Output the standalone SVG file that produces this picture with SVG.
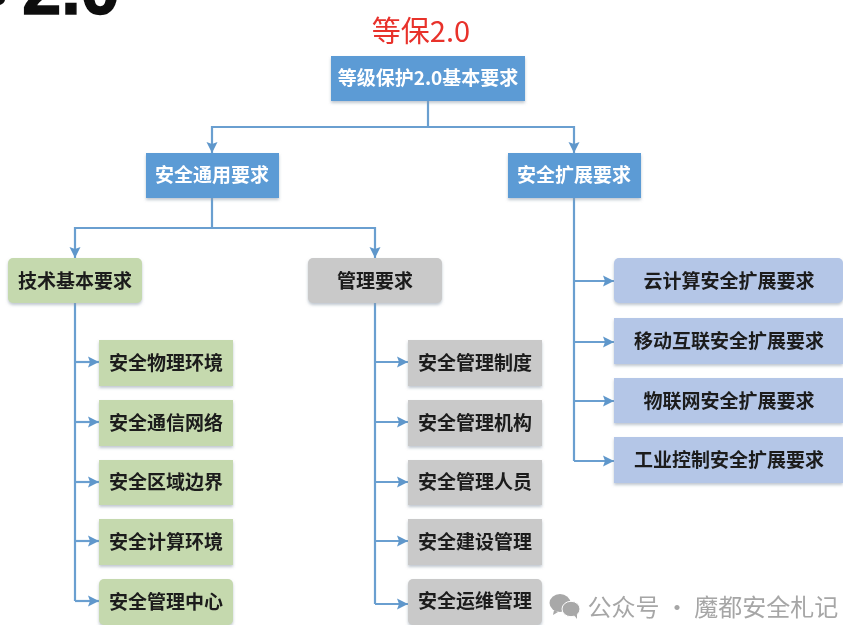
<svg xmlns="http://www.w3.org/2000/svg" width="865" height="642" viewBox="0 0 865 642">
<style>
text{font-family:"Noto Sans CJK SC","Noto Sans",sans-serif;text-anchor:middle;dominant-baseline:central}
.b{fill:#5b9bd5}.g{fill:#c5d9ae}.h{fill:#c9c9c9}.p{fill:#b4c6e7}
.w{fill:#fff;font-size:19px;font-weight:700}
.k{fill:#1a1a1a;font-size:19px;font-weight:700}
.c{fill:none;stroke:#6a9fd0;stroke-width:2.2}
</style>
<defs>
<marker id="a" markerUnits="userSpaceOnUse" markerWidth="12" markerHeight="12" refX="11" refY="6" orient="auto"><path d="M0 0.5L11 6L0 11.5L2 6Z" fill="#5f97cb"/></marker>
<filter id="s" x="-10%" y="-15%" width="120%" height="135%"><feDropShadow dx="0" dy="2" stdDeviation="1.5" flood-color="#8a9aa8" flood-opacity=".55"/></filter>
<filter id="soft" x="0" y="0" width="100%" height="100%"><feGaussianBlur stdDeviation="0.4"/></filter>
</defs>
<rect width="865" height="642" fill="#fff"/>
<g filter="url(#soft)">
<path d="M0 0H5C4.500 2 3 4 0 5Z" fill="#111"/>
<text x="71" y="-10" style="font-family:'Liberation Sans',sans-serif;font-size:70px;font-weight:700;fill:#111;stroke:#111;stroke-width:1.5">2.0</text>
<text x="421" y="29" style="font-size:29px;fill:#e8302c">等保2.0</text>
<g id="connectors" class="c">
<path d="M428 101V127"/>
<path d="M428 127H212V153" marker-end="url(#a)"/>
<path d="M428 127H574V153" marker-end="url(#a)"/>
<path d="M212 198V228"/>
<path d="M212 228H75V258" marker-end="url(#a)"/>
<path d="M212 228H375V258" marker-end="url(#a)"/>
<path d="M75 303V601"/>
<path d="M75 362H99" marker-end="url(#a)"/>
<path d="M75 422H99" marker-end="url(#a)"/>
<path d="M75 482H99" marker-end="url(#a)"/>
<path d="M75 541H99" marker-end="url(#a)"/>
<path d="M75 601H99" marker-end="url(#a)"/>
<path d="M375 303V604"/>
<path d="M375 362H408" marker-end="url(#a)"/>
<path d="M375 422H408" marker-end="url(#a)"/>
<path d="M375 482H408" marker-end="url(#a)"/>
<path d="M375 541H408" marker-end="url(#a)"/>
<path d="M375 604H408" marker-end="url(#a)"/>
<path d="M574 198V461"/>
<path d="M574 281H614" marker-end="url(#a)"/>
<path d="M574 342H614" marker-end="url(#a)"/>
<path d="M574 401H614" marker-end="url(#a)"/>
<path d="M574 461H614" marker-end="url(#a)"/>
</g>
<g id="root"><rect x="331" y="56" width="194" height="45" class="b" filter="url(#s)"/><text x="428" y="76" class="w">等级保护2.0基本要求</text></g>
<g id="general"><rect x="146" y="153" width="133" height="45" class="b" filter="url(#s)"/><text x="212" y="173" class="w">安全通用要求</text></g>
<g id="extension"><rect x="508" y="153" width="133" height="45" class="b" filter="url(#s)"/><text x="574" y="173" class="w">安全扩展要求</text></g>
<g id="tech"><rect x="8" y="258" width="134" height="45" rx="5" class="g" filter="url(#s)"/><text x="75" y="279" class="k">技术基本要求</text></g>
<g id="mgmt"><rect x="308" y="258" width="134" height="45" rx="5" class="h" filter="url(#s)"/><text x="375" y="279" class="k">管理要求</text></g>
<g id="t1"><rect x="99" y="340" width="134" height="46" class="g" filter="url(#s)"/><text x="166" y="361" class="k">安全物理环境</text></g>
<g id="t2"><rect x="99" y="400" width="134" height="46" class="g" filter="url(#s)"/><text x="166" y="421" class="k">安全通信网络</text></g>
<g id="t3"><rect x="99" y="460" width="134" height="45" class="g" filter="url(#s)"/><text x="166" y="480" class="k">安全区域边界</text></g>
<g id="t4"><rect x="99" y="519" width="134" height="46" class="g" filter="url(#s)"/><text x="166" y="540" class="k">安全计算环境</text></g>
<g id="t5"><rect x="99" y="579" width="134" height="46" rx="5" class="g" filter="url(#s)"/><text x="166" y="600" class="k">安全管理中心</text></g>
<g id="m1"><rect x="408" y="340" width="134" height="46" class="h" filter="url(#s)"/><text x="475" y="361" class="k">安全管理制度</text></g>
<g id="m2"><rect x="408" y="400" width="134" height="46" class="h" filter="url(#s)"/><text x="475" y="421" class="k">安全管理机构</text></g>
<g id="m3"><rect x="408" y="460" width="134" height="45" class="h" filter="url(#s)"/><text x="475" y="480" class="k">安全管理人员</text></g>
<g id="m4"><rect x="408" y="519" width="134" height="46" class="h" filter="url(#s)"/><text x="475" y="540" class="k">安全建设管理</text></g>
<g id="m5"><rect x="408" y="579" width="134" height="46" rx="5" class="h" filter="url(#s)"/><text x="475" y="599" class="k">安全运维管理</text></g>
<g id="e1"><rect x="614" y="258" width="229" height="45" rx="5" class="p" filter="url(#s)"/><text x="729" y="279" class="k">云计算安全扩展要求</text></g>
<g id="e2"><rect x="614" y="318" width="229" height="46" class="p" filter="url(#s)"/><text x="729" y="339" class="k">移动互联安全扩展要求</text></g>
<g id="e3"><rect x="614" y="378" width="229" height="45" class="p" filter="url(#s)"/><text x="729" y="399" class="k">物联网安全扩展要求</text></g>
<g id="e4"><rect x="614" y="437" width="229" height="46" class="p" filter="url(#s)"/><text x="729" y="458" class="k">工业控制安全扩展要求</text></g>
<g id="watermark">
<ellipse cx="560" cy="603" rx="10.500" ry="9" fill="#a8a8a8"/>
<path d="M554 610l-1 5 5-3Z" fill="#a8a8a8"/>
<ellipse cx="571" cy="609" rx="9" ry="7.700" fill="#a8a8a8" stroke="#fff" stroke-width="1"/>
<path d="M574 615l3 4 0-5Z" fill="#a8a8a8"/>
<text x="713" y="605" style="font-size:24px;fill:#a6a6a6">公众号 · 魔都安全札记</text>
</g>
</g>
</svg>
